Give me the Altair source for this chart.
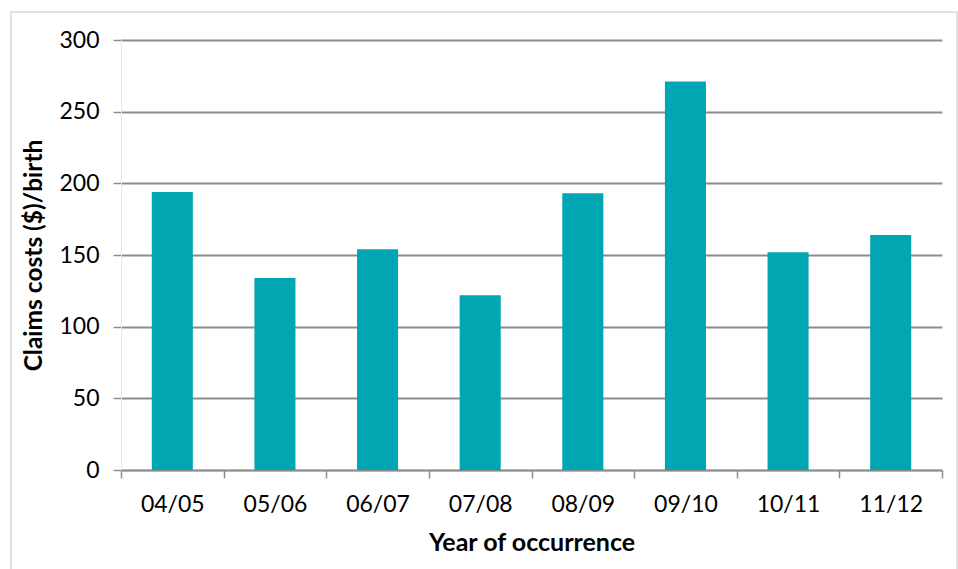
import altair as alt
import pandas as pd

# Claims cost per birth by year of occurrence
years = ["04/05", "05/06", "06/07", "07/08", "08/09", "09/10", "10/11", "11/12"]
costs = [194, 134, 154, 122, 193, 271, 152, 164]

df = pd.DataFrame({"year": years, "cost": costs})

W, H = 821, 430
FONT = "Lato"
GRID = "#8C8C8C"

bars = alt.Chart(df).mark_bar(
    color="#00A6B2", width=alt.RelativeBandSize(0.4)
).encode(
    x=alt.X(
        "year:N",
        sort=None,
        scale=alt.Scale(paddingInner=0, paddingOuter=0),
        axis=alt.Axis(
            title="Year of occurrence",
            tickBand="extent",
            labelAngle=0,
            labelFont=FONT,
            labelFontSize=23,
            labelColor="#000000",
            labelPadding=15,
            tickSize=8,
            tickColor=GRID,
            tickWidth=1.5,
            domainColor=GRID,
            domainWidth=1.5,
            titleFont=FONT,
            titleFontSize=25,
            titleFontWeight="bold",
            titleColor="#000000",
            titlePadding=14,
            grid=False,
        ),
    ),
    y=alt.Y(
        "cost:Q",
        scale=alt.Scale(domain=[0, 300]),
        axis=alt.Axis(
            title="Claims costs ($)/birth",
            values=[0, 50, 100, 150, 200, 250, 300],
            labelFont=FONT,
            labelFontSize=23,
            labelColor="#000000",
            labelPadding=14,
            tickSize=8,
            tickColor=GRID,
            tickWidth=1.5,
            domainColor="#E6E6E6",
            domainWidth=1,
            grid=True,
            gridColor=GRID,
            gridWidth=1.8,
            titleFont=FONT,
            titleFontSize=24.5,
            titleFontWeight="bold",
            titleColor="#000000",
            titlePadding=12,
        ),
    ),
)

# light outer frame around the whole figure
frame = alt.Chart(alt.Data(values=[{"f": 1}])).mark_rect(
    filled=False, stroke="#D9D9D9", strokeWidth=1.5
).encode(
    x=alt.value(-110), x2=alt.value(836),
    y=alt.value(-28), y2=alt.value(540),
)

chart = alt.layer(frame, bars).properties(
    width=W,
    height=H,
    autosize=alt.AutoSizeParams(type="none"),
    padding={"left": 121, "top": 40, "right": 16, "bottom": 99},
    background="#FFFFFF",
).configure_view(stroke=None)

chart.save("out.html", embed_options={"renderer": "svg", "actions": False})
